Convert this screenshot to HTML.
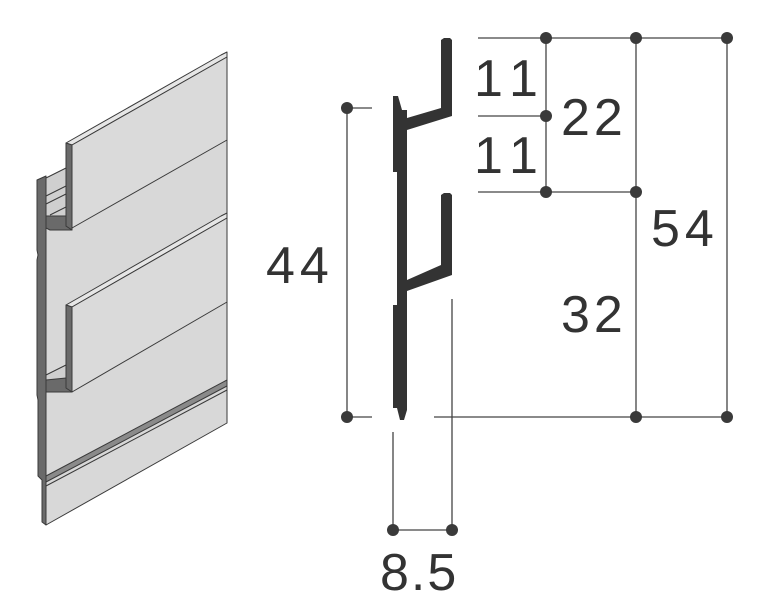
<!DOCTYPE html>
<html><head><meta charset="utf-8"><style>
html,body{margin:0;padding:0;background:#fff;width:767px;height:615px;overflow:hidden}
svg{display:block}
text{font-family:"Liberation Sans",sans-serif;fill:#333;font-size:52px}
</style></head><body>
<svg width="767" height="615" viewBox="0 0 767 615" xmlns="http://www.w3.org/2000/svg">
<g stroke="#3a3a3a" stroke-width="1" stroke-linejoin="round">
  <polygon points="46,190 227,95 227,423 46,525" fill="#d8d8d8"/>
  <polygon points="37,180 46,176 46,525 42,522 42,480 38,476 38,400 37,395 37,260 38,255 37,250" fill="#6a6a6a"/>
  <polygon points="46,178 66,168 66,226 46,226" fill="#cfcfcf"/>
  <line x1="46" y1="196" x2="66" y2="186"/>
  <line x1="46" y1="204" x2="66" y2="194"/>
  <line x1="50" y1="215" x2="66" y2="207"/>
  <polygon points="46,216 66,216 66,226 72,230 50,230 46,228" fill="#6a6a6a"/>
  <polygon points="66,143 221,55 227,52 227,57 72,145" fill="#e6e6e6"/>
  <polygon points="72,145 227,57 227,140 72,228" fill="#dadada"/>
  <polygon points="66,143 72,145 72,230 66,226" fill="#6a6a6a"/>
  <polygon points="46,375 66,365 66,380 46,385" fill="#cfcfcf"/>
  <polygon points="46,380 66,378 66,385 72,392 46,392" fill="#6a6a6a"/>
  <polygon points="66,305 221,216 227,213 227,218 72,307" fill="#e6e6e6"/>
  <polygon points="72,307 227,218 227,302 72,392" fill="#dadada"/>
  <polygon points="66,305 72,307 72,392 66,388" fill="#6a6a6a"/>
  <polygon points="46,476 227,380 227,386 46,482" fill="#8a8a8a"/>
  <line x1="46" y1="486" x2="227" y2="390"/>
</g>
<g fill="#333">
  <polygon points="393,96 398,96 402,110 407,110 407,118 441,108 441,40 444,38 450,38 452,40 452,116 407,130 407,280 441,265 441,195 444,193 450,193 452,195 452,275 407,291 407,410 404,420 400,420 397,408 393,408 393,305 397,305 397,172 393,172"/>
</g>
<g stroke="#444" stroke-width="1.3" fill="none">
  <line x1="478" y1="38" x2="727" y2="38"/>
  <line x1="478" y1="116" x2="546" y2="116"/>
  <line x1="478" y1="192" x2="636" y2="192"/>
  <line x1="434" y1="417" x2="727" y2="417"/>
  <line x1="347" y1="417" x2="372" y2="417"/>
  <line x1="347" y1="108" x2="372" y2="108"/>
  <line x1="546" y1="38" x2="546" y2="192"/>
  <line x1="636" y1="38" x2="636" y2="417"/>
  <line x1="727" y1="38" x2="727" y2="417"/>
  <line x1="347" y1="108" x2="347" y2="417"/>
  <line x1="393" y1="432" x2="393" y2="530"/>
  <line x1="452" y1="299" x2="452" y2="530"/>
  <line x1="393" y1="530" x2="452" y2="530"/>
</g>
<g fill="#3a3a3a">
  <circle cx="546" cy="38" r="6"/><circle cx="636" cy="38" r="6"/><circle cx="727" cy="38" r="6"/>
  <circle cx="546" cy="116" r="6"/><circle cx="546" cy="192" r="6"/><circle cx="636" cy="192" r="6"/>
  <circle cx="347" cy="108" r="6"/><circle cx="347" cy="417" r="6"/>
  <circle cx="636" cy="417" r="6"/><circle cx="727" cy="417" r="6"/>
  <circle cx="393" cy="530" r="6"/><circle cx="452" cy="530" r="6"/>
</g>
<text x="474" y="96" letter-spacing="10">11</text>
<text x="474" y="173" letter-spacing="10">11</text>
<text x="561" y="135" letter-spacing="4">22</text>
<text x="651" y="246" letter-spacing="5">54</text>
<text x="561" y="332" letter-spacing="4">32</text>
<text x="266" y="283" letter-spacing="5">44</text>
<text x="380" y="590" letter-spacing="2">8.5</text>
</svg>
</body></html>
